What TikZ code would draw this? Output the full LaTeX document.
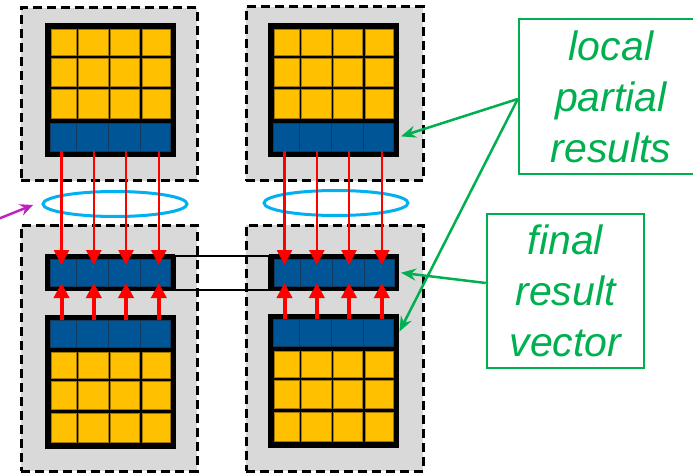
\documentclass[tikz,border=0pt]{standalone}
\usepackage{fontspec}
\newfontfamily\lblfont{Liberation Sans}
\usetikzlibrary{arrows.meta,shapes.geometric}

\definecolor{pegray}{HTML}{D9D9D9}
\definecolor{cellyellow}{HTML}{FFC000}
\definecolor{cellyellowdark}{HTML}{A07800}
\definecolor{cellblue}{HTML}{005596}
\definecolor{cellbluedark}{HTML}{123A5E}
\definecolor{ringcyan}{HTML}{00B0F0}
\definecolor{notegreen}{HTML}{00B050}
\definecolor{probemagenta}{HTML}{C020C0}

\tikzset{
  pebox/.style={fill=pegray, draw=black, line width=3pt,
    dash pattern=on 9pt off 5pt, inner sep=0pt, outer sep=0pt},
  blackframe/.style={fill=black, inner sep=0pt, outer sep=0pt},
  ycell/.style={fill=cellyellow, draw=cellyellowdark, line width=0.6pt},
  bcell/.style={fill=cellblue, draw=cellbluedark, line width=0.8pt,
    inner sep=0pt, outer sep=0pt},
  ring/.style={ellipse, draw=ringcyan, line width=3pt, minimum width=144pt,
    minimum height=25pt, inner sep=0pt},
  sendarrow/.style={draw=red, line width=2.5pt, shorten >=-6pt,
    -{Triangle[length=15pt,width=15pt]}},
  gatherarrow/.style={draw=red, line width=4pt, shorten >=-3pt,
    -{Triangle[length=15pt,width=15pt]}},
  linkbox/.style={draw=black, line width=2pt},
  probe/.style={draw=probemagenta, line width=2.5pt,
    -{Stealth[length=13pt,width=12pt,inset=4.5pt]}},
  note/.style={draw=notegreen, line width=2.5pt, text=notegreen,
    font=\lblfont\itshape\fontsize{41}{51}\selectfont, align=center,
    inner sep=0pt},
  pointer/.style={draw=notegreen, line width=2.5pt,
    -{Stealth[length=15pt,width=12pt,inset=5pt]}},
  % local matrix block with its partial-result row at the bottom
  topmtx/.pic={
    \node[blackframe, minimum width=131pt, minimum height=134pt] (f) at (65.5,67) {};
    \foreach \ya/\yh in {6/26,35/28,66/29}
      \foreach \xa/\xw in {6/25,33/30,65/29,97/28}
        \path[ycell] (\xa,\ya) rectangle ++(\xw,\yh);
    \foreach \i/\xa/\xw in {1/5/26,2/31/32,3/63/32,4/95/30}
      \node[bcell, minimum width=\xw*1pt, minimum height=28pt] (b\i) at (\xa+\xw/2,114) {};
  },
  % local matrix block with its partial-result row at the top
  botmtx/.pic={
    \node[blackframe, minimum width=131pt, minimum height=134pt] (f) at (65.5,67) {};
    \foreach \ya/\yh in {37/26,66/28,98/29}
      \foreach \xa/\xw in {6/25,33/30,65/29,97/28}
        \path[ycell] (\xa,\ya) rectangle ++(\xw,\yh);
    \foreach \i/\xa/\xw in {1/5/26,2/31/32,3/63/32,4/95/30}
      \node[bcell, minimum width=\xw*1pt, minimum height=27pt] (b\i) at (\xa+\xw/2,18.5) {};
  },
  % reduced result vector
  vecbar/.pic={
    \node[blackframe, minimum width=130pt, minimum height=37pt] (f) at (65,18.5) {};
    \foreach \i/\xa/\xw in {1/5/26,2/31/32,3/63/32,4/95/30}
      \node[bcell, minimum width=\xw*1pt, minimum height=27pt] (v\i) at (\xa+\xw/2,18.5) {};
  },
}

\begin{document}
\begin{tikzpicture}[x=1pt,y=-1pt]
\useasboundingbox (0,0) rectangle (693,473);
\clip (0,0) rectangle (693,473);

% processing elements
\node[pebox, minimum width=176pt, minimum height=173pt] (peTL) at (109,94.5) {};
\node[pebox, minimum width=177pt, minimum height=174pt] (peTR) at (334.5,94) {};
\node[pebox, minimum width=176pt, minimum height=246pt] (peBL) at (109,348) {};
\node[pebox, minimum width=177pt, minimum height=246pt] (peBR) at (334.5,348) {};

% reduction groups
\node[ring] (rgL) at (115,204) {};
\node[ring] (rgR) at (336,203) {};

% matrices and vectors
\pic (TL) at (45,23) {topmtx};
\pic (TR) at (268,23) {topmtx};
\pic (VL) at (45,254) {vecbar};
\pic (VR) at (269,254) {vecbar};
\pic (BL) at (45,315) {botmtx};
\pic (BR) at (268,314) {botmtx};

% the two halves form one result vector
\draw[linkbox] ([yshift=-1.5pt]VLf.north east) rectangle ([yshift=1.5pt]VRf.south west);

% reductions into the result vector
\foreach \i/\d in {1/-1.5pt,2/1.8pt,3/2pt,4/3.8pt} {
  \draw[sendarrow] ([xshift=\d]TLb\i.south) -- ([xshift=\d]TLb\i.south |- VLv\i.north);
  \draw[sendarrow] ([xshift=\d]TRb\i.south) -- ([xshift=\d]TRb\i.south |- VRv\i.north);
  \draw[gatherarrow] ([xshift=\d]BLb\i.north) -- ([xshift=\d]BLb\i.north |- VLv\i.south);
  \draw[gatherarrow] ([xshift=\d]BRb\i.north) -- ([xshift=\d]BRb\i.north |- VRv\i.south);
}

% incoming marker
\coordinate (mgA) at (-2,219);
\coordinate (mgB) at (33,205);
\draw[probe] (mgA) -- (mgB);

% annotations
\node[note, minimum width=184pt, minimum height=155pt] (lpr) at (611,96.5) {local\\partial\\results};
\node[note, minimum width=157pt, minimum height=154pt] (frv) at (565.5,291) {final\\result\\vector};

\draw[pointer, shorten >=2pt] ([yshift=-2.5pt]lpr.west) -- (TRb4.east -| TRf.east);
\draw[pointer, shorten >=1pt] ([yshift=-2.5pt]lpr.west) -- (BRb4.east -| BRf.east);
\draw[pointer, shorten >=2pt] ([yshift=8pt]frv.west) -- (VRf.east);
\end{tikzpicture}
\end{document}
